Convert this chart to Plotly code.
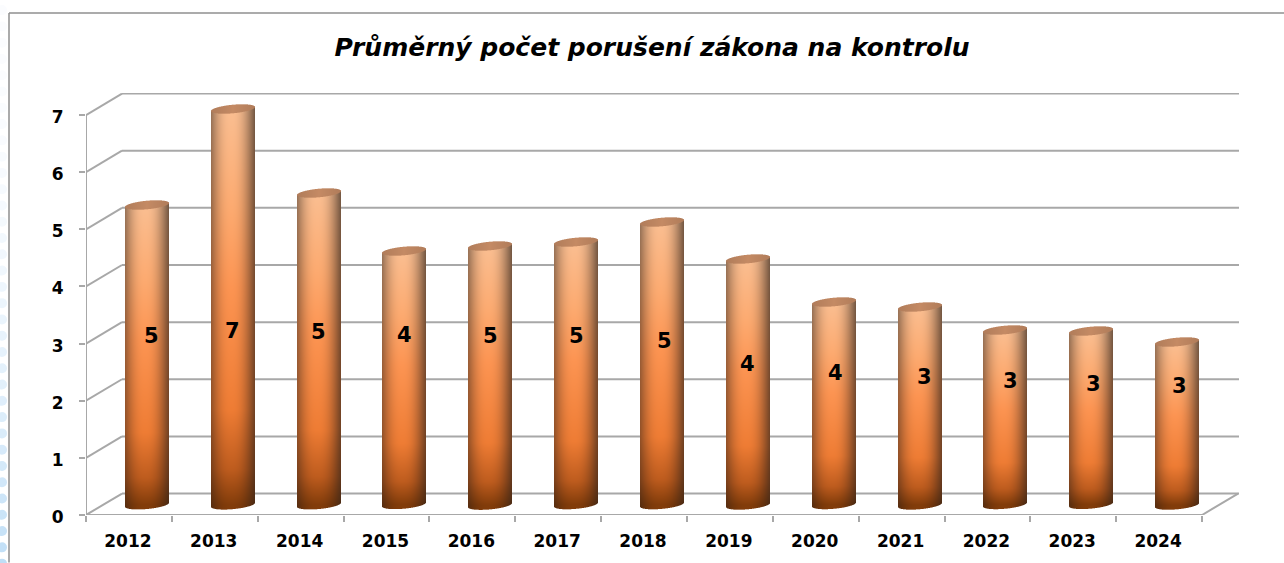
import numpy as np
import plotly.graph_objects as go

# ---- data ----
YEARS = ["2012", "2013", "2014", "2015", "2016", "2017", "2018", "2019", "2020", "2021", "2022", "2023", "2024"]
VALUES = [5.24, 6.92, 5.45, 4.43, 4.53, 4.59, 4.94, 4.30, 3.54, 3.46, 3.05, 3.03, 2.85]
LABEL_LEVELS = [3.13, 3.22, 3.20, 3.15, 3.13, 3.13, 3.04, 2.64, 2.48, 2.41, 2.34, 2.29, 2.25]
LABEL_SHIFTS = [5, 0, 0, 0, 0, 0, 2, 0, 2, 5, 5, 2, 2]
Y_TICKS = list(range(8))
TITLE = "Průměrný počet porušení zákona na kontrolu"

# ---- layout geometry ----
W, H = 1284, 563
L, R, T, B = 86, 1239, 93, 515.5
PX_X = 85.85
PX_Y = 57.2
X_RANGE = [-0.5, -0.5 + (R - L) / PX_X]
Y_RANGE = [0, (B - T) / PX_Y]
DEPTH_X = 36 / PX_X
DEPTH_Y = 21.5 / PX_Y
CYL_X = 18 / PX_X
CYL_Y = 10.5 / PX_Y
HALF_W = 22.0
CAP_B = 4.3
TILT = 2.0
GRID = "#a8a8a8"
FONT = "DejaVu Sans"


def vertical_colour(f):
    """f = 0 at the foot of the cylinder, 1 at its top."""
    stops = np.array([0.0, 0.09, 0.24, 0.55, 0.75, 1.0])
    cols = np.array([
        [130, 60, 10], [190, 92, 30], [238, 124, 52],
        [252, 148, 82], [252, 170, 112], [250, 190, 145],
    ], dtype=float)
    return np.stack([np.interp(f, stops, cols[:, k]) for k in range(3)], axis=-1)


def cylinder_image(value):
    """RGBA picture of a cylinder; one cell per screen pixel, row 0 at the top."""
    height = value * PX_Y
    ss = 3
    pad = 8
    ny = int(np.ceil(height)) + 2 * pad
    nx = int(2 * HALF_W) + 2
    xs = (np.arange(nx * ss) + 0.5) / ss - nx / 2
    ys = height + pad - (np.arange(ny * ss) + 0.5) / ss
    X, Y = np.meshgrid(xs, ys)
    u = X / HALF_W
    slope = TILT / HALF_W

    inside_w = np.abs(u) <= 1
    arc = CAP_B * np.sqrt(np.clip(1 - u ** 2, 0, 1))
    foot = X * slope - arc
    head = height + X * slope + arc
    inside = inside_w & (Y >= foot) & (Y <= head)
    cap = inside_w & (np.abs(Y - (height + X * slope)) <= arc)

    f = np.clip(Y / height, 0, 1)
    rgb = vertical_colour(f)
    # darker towards both sides, brightest a little left of the centre
    d = np.abs(u + 0.08) / 1.08
    shade = 1 - 0.55 * np.clip(d, 0, 1) ** 2.3
    grey = (1 - 0.25 * np.clip(d, 0, 1) ** 3)[..., None]
    rgb = rgb * shade[..., None] * grey + (1 - grey) * np.array([120, 90, 70])
    capcol = np.array([196, 138, 100])[None, None, :] * (1 - 0.10 * np.abs(u))[..., None]
    rgb = np.where(cap[..., None], capcol, rgb)

    def down(a):
        s = a.reshape(ny, ss, nx, ss, -1)
        return s.mean(axis=(1, 3))

    mask = inside.astype(float)[..., None]
    alpha = down(mask)
    col = down(rgb * mask) / np.maximum(alpha, 1e-6)
    return np.concatenate([np.round(col), alpha], axis=-1), nx, ny, pad


fig = go.Figure()
n = len(YEARS)
shapes = []


def segment(x0, y0, x1, y1):
    shapes.append(dict(type="line", xref="x", yref="y", layer="below", x0=x0, y0=y0, x1=x1, y1=y1,
                       line=dict(color=GRID, width=2)))


# ---- walls and floor of the 3-D box (below the cylinders) ----
left = X_RANGE[0]
right = X_RANGE[1]
front_end = n - 0.5
for v in Y_TICKS:
    segment(left, v, left + DEPTH_X, v + DEPTH_Y)
    segment(left + DEPTH_X, v + DEPTH_Y, right, v + DEPTH_Y)
segment(left, Y_TICKS[-1], left, 0)
segment(left, 0, front_end, 0)
segment(front_end, 0, front_end + DEPTH_X, DEPTH_Y)

# ---- cylinders ----
for i, v in enumerate(VALUES):
    img, nx, ny, pad = cylinder_image(v)
    fig.add_trace(go.Image(
        z=img, colormodel="rgba",
        x0=i + CYL_X - (nx - 1) / 2 / PX_X, dx=1 / PX_X,
        y0=CYL_Y + v + (pad - 0.5) / PX_Y, dy=-1 / PX_Y,
        hoverinfo="skip",
    ))

# ---- value labels ----
for i, (v, lvl, sh) in enumerate(zip(VALUES, LABEL_LEVELS, LABEL_SHIFTS)):
    fig.add_annotation(x=i + CYL_X, y=lvl, text=str(round(v)), showarrow=False, xshift=sh,
                       font=dict(family=FONT, size=21, color="black", weight="bold"))

# ---- page decoration: frame and dots ----
shapes += [
    dict(type="line", xref="paper", yref="paper", layer="below",
         x0=(9 - L) / (R - L), x1=(9 - L) / (R - L),
         y0=(B - 13) / (B - T), y1=(B - H) / (B - T), line=dict(color="#8f8f8f", width=1.5)),
    dict(type="line", xref="paper", yref="paper", layer="below",
         x0=(9 - L) / (R - L), x1=(W - L) / (R - L),
         y0=(B - 13) / (B - T), y1=(B - 13) / (B - T), line=dict(color="#8f8f8f", width=1.5)),
]
for k in range(35):
    cy = 10 + k * 16.3
    t = (cy / H) ** 2.2
    col = f"rgb({int(252 - 60 * t)},{int(253 - 30 * t)},{int(255 - 8 * t)})"
    shapes.append(dict(type="circle", xref="paper", yref="paper", layer="below",
                       x0=(-3 - L) / (R - L), x1=(7 - L) / (R - L),
                       y0=(B - cy - 5) / (B - T), y1=(B - cy + 5) / (B - T),
                       fillcolor=col, line=dict(width=0)))

fig.update_layout(
    width=W, height=H, autosize=False,
    margin=dict(l=L, r=W - R, t=T, b=H - B, pad=0),
    paper_bgcolor="white", plot_bgcolor="rgba(0,0,0,0)", showlegend=False,
    shapes=shapes,
    title=dict(text=f"<b><i>{TITLE}</i></b>", x=652 / W, xanchor="center",
               y=1 - 47 / H, yanchor="middle",
               font=dict(family=FONT, size=25, color="black")),
    xaxis=dict(range=X_RANGE, tickmode="array", tickvals=list(range(n)), ticktext=YEARS,
               showgrid=False, zeroline=False, showline=False, ticks="", autorange=False,
               scaleanchor=False,
               tickfont=dict(family=FONT, size=17, color="black", weight="bold"),
               ticklabelstandoff=14, ticklabelshift=-1,
               minor=dict(tickmode="array", tickvals=[i - 0.5 for i in range(n + 1)],
                          ticks="outside", ticklen=6, tickwidth=1.5, tickcolor=GRID, showgrid=False)),
    yaxis=dict(range=Y_RANGE, tickmode="array", tickvals=Y_TICKS, autorange=False,
               scaleanchor=False,
               showgrid=False, zeroline=False, showline=False,
               ticks="outside", ticklen=6, tickwidth=1.5, tickcolor=GRID,
               ticklabelstandoff=12, ticklabelshift=2,
               tickfont=dict(family=FONT, size=17, color="black", weight="bold")),
)

fig.write_html("out.html", config={"displayModeBar": False},
               post_script="document.body.style.margin='0';document.body.style.overflow='hidden';")
